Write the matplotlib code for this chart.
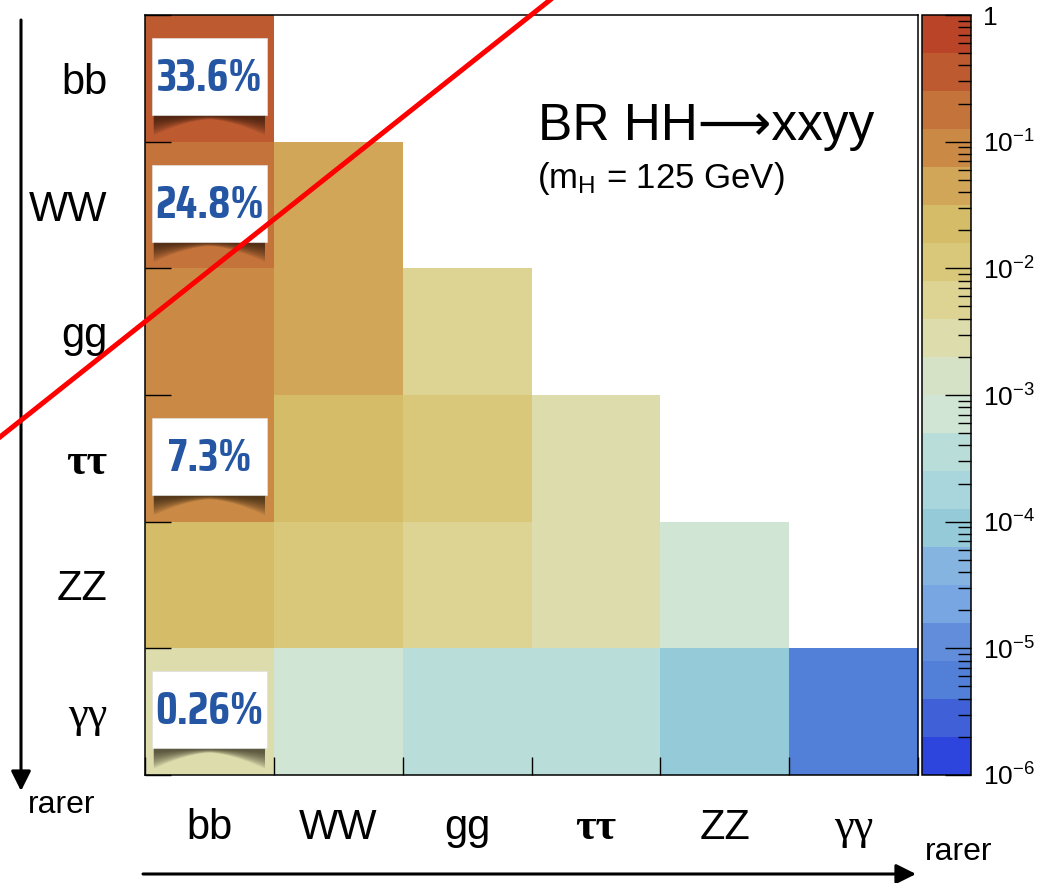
import numpy as np
import matplotlib
matplotlib.use('Agg')
import matplotlib.pyplot as plt
from matplotlib import font_manager as fm
from matplotlib.textpath import TextPath
from matplotlib.colors import ListedColormap, LogNorm
from matplotlib.lines import Line2D
from matplotlib.patches import Rectangle, FancyArrowPatch
import matplotlib.ticker as mticker

plt.rcParams['font.family'] = ['Liberation Sans', 'DejaVu Sans']
plt.rcParams['mathtext.fontset'] = 'custom'
plt.rcParams['mathtext.rm'] = 'Liberation Sans'
plt.rcParams['mathtext.default'] = 'regular'

# decay channels, ordered from most to least frequent
channels = ['bb', 'WW', 'gg', 'ττ', 'ZZ', 'γγ']

# BR(HH -> xxyy), one list per row (first pair), lower triangle only
br_bb = [0.336]
br_WW = [0.248, 0.0457]
br_gg = [0.0949, 0.0350, 0.00669]
br_tautau = [0.0730, 0.0268, 0.0103, 0.00393]
br_ZZ = [0.0304, 0.0112, 0.00429, 0.00329, 0.000686]
br_gamgam = [0.00260, 0.000970, 0.000371, 0.000285, 0.000119, 5.15e-6]

# boxed percentages in the first column
pct_rows = [0, 1, 3, 5]
pct_labels = ['33.6%', '24.8%', '7.3%', '0.26%']

# palette, from 1e-6 (blue) up to 1 (red), 20 bands of 0.3 decades
band_colors = ['#2E45DD', '#3F60D6', '#527FD7', '#628DDB', '#77A6E3',
               '#85B4E0', '#95CAD9', '#A9D5DC', '#B9DDD9', '#D0E5D4',
               '#D5E2C5', '#DCDCAC', '#DDD494', '#D9C77A', '#D4BC68',
               '#D1A658', '#CA8A45', '#C4733A', '#BE5A30', '#BA4428']


def weight_num(w):
    if isinstance(w, str):
        return {'bold': 700, 'heavy': 800, 'black': 900, 'semibold': 600,
                'demibold': 600}.get(w, 400)
    return w


def aspect(prop):
    # width of "33.6%" relative to the height of a digit
    wid = TextPath((0, 0), '33.6%', size=10, prop=prop).get_extents().width
    hgt = TextPath((0, 0), '3', size=10, prop=prop).get_extents().height
    return wid / hgt


# bold sans face whose proportions come closest to the boxed numbers (~3.2)
target = 3.2
pct_font = fm.FontProperties(family='Liberation Sans', weight='bold')
best = abs(aspect(pct_font) - target)
for f in fm.fontManager.ttflist:
    if f.style != 'normal' or not (700 <= weight_num(f.weight) <= 800):
        continue
    if any(k in f.name for k in ('Mono', 'Serif', 'CJK', 'Math', 'Display')):
        continue
    try:
        p = fm.FontProperties(fname=f.fname)
        d = abs(aspect(p) - target)
    except Exception:
        continue
    if d < best:
        best, pct_font = d, p

W, H = 1037, 883
fig = plt.figure(figsize=(W / 100, H / 100), dpi=100)

rows = [br_bb, br_WW, br_gg, br_tautau, br_ZZ, br_gamgam]
n = len(channels)
mat = np.full((n, n), np.nan)
for i, r in enumerate(rows):
    mat[i, :len(r)] = r

cmap = ListedColormap(band_colors)
norm = LogNorm(vmin=1e-6, vmax=1)

ax = fig.add_axes([145 / W, 1 - 775 / H, (918 - 145) / W, 760 / H])
mesh = ax.pcolormesh(np.arange(n + 1), np.arange(n + 1), np.ma.masked_invalid(mat),
                     cmap=cmap, norm=norm)
ax.set_xlim(0, n)
ax.set_ylim(n, 0)

for sp in ax.spines.values():
    sp.set_linewidth(1.1)

# ticks at cell edges, labels at cell centres
ax.set_xticks(np.arange(n + 1))
ax.set_yticks(np.arange(n + 1))
ax.set_xticks(np.arange(n) + 0.5, minor=True)
ax.set_yticks(np.arange(n) + 0.5, minor=True)
ax.set_xticklabels(channels, minor=True)
ax.set_yticklabels(channels, minor=True)
ax.tick_params(which='major', direction='in', width=1, labelbottom=False, labelleft=False)
ax.tick_params(axis='x', which='major', length=13)
ax.tick_params(axis='y', which='major', length=19)
ax.tick_params(axis='x', which='minor', length=0, pad=24, labelsize=30)
ax.tick_params(axis='y', which='minor', length=0, pad=27, labelsize=30)
for lab in ax.get_xticklabels(minor=True) + ax.get_yticklabels(minor=True):
    if lab.get_text() == 'ττ':
        lab.set_fontfamily(['Liberation Serif', 'DejaVu Serif'])
        lab.set_fontweight('bold')
        lab.set_fontsize(32)
    elif lab.get_text() == 'γγ':
        lab.set_fontfamily(['Liberation Serif', 'DejaVu Serif'])
        lab.set_fontsize(32)

# white label boxes with a curled shadow
bw, bh = 0.893, 0.608
t = np.linspace(0, 1, 80)
pct_texts = []
for r, s in zip(pct_rows, pct_labels):
    cx, cy = 0.5, r + 0.5 - 0.015
    x0, y1 = cx - bw / 2, cy + bh / 2
    for k in range(10):
        grow = 1 - 0.085 * k
        depth = (0.035 + 0.125 * np.abs(2 * t - 1) ** 1.6) * grow
        xs = x0 + 0.015 + (bw - 0.03) * t
        px = np.concatenate([xs, xs[::-1]])
        py = np.concatenate([np.full_like(t, y1 - 0.05), (y1 + depth)[::-1]])
        ax.fill(px, py, color='#140c04', alpha=0.09, lw=0, zorder=2.5)
    ax.add_patch(Rectangle((x0, cy - bh / 2), bw, bh, facecolor='white',
                           edgecolor='#e0e0e0', lw=0.5, zorder=3))
    pct_texts.append(ax.text(cx, r + 0.5, s, ha='center', va='center', color='#2456A4',
                             fontproperties=pct_font, fontsize=30, zorder=4))

# scale the numbers so that "33.6%" is about 106 px wide
fig.canvas.draw()
wpx = pct_texts[0].get_window_extent().width
size = min(38, 30 * 106 / wpx)
for tx in pct_texts:
    tx.set_fontsize(size)

# colour bar, ticks only inside 1e-6 .. 1
cax = fig.add_axes([921.5 / W, 1 - 775 / H, 49 / W, 760 / H])
cb = fig.colorbar(mesh, cax=cax)
cb.outline.set_linewidth(1.1)
decades = np.arange(-6, 1)
cax.yaxis.set_major_locator(mticker.FixedLocator(10.0 ** decades))
cax.yaxis.set_minor_locator(mticker.FixedLocator(
    [m * 10.0 ** d for d in decades[:-1] for m in range(2, 10)]))
cax.yaxis.set_major_formatter(mticker.FuncFormatter(
    lambda v, _: '1' if abs(v - 1) < 1e-9 else '$10^{%d}$' % round(np.log10(v))))
cax.yaxis.set_minor_formatter(mticker.NullFormatter())
cax.tick_params(which='major', direction='in', length=19, width=1, labelsize=19, pad=9)
cax.tick_params(which='minor', direction='in', length=9.5, width=1)

# title
fig.text(706 / W, 1 - 140 / H, 'BR HH⟶xxyy', ha='center', va='baseline', fontsize=37)
fig.text(661 / W, 1 - 188 / H, '(m$_{H}$ = 125 GeV)', ha='center', va='baseline', fontsize=25)

# "rarer" arrows
fig.add_artist(FancyArrowPatch((21 / W, 1 - 20 / H), (21 / W, 1 - 791 / H),
                               transform=fig.transFigure, arrowstyle='-|>,head_length=12,head_width=6',
                               lw=2.2, color='black', shrinkA=0, shrinkB=0))
fig.add_artist(FancyArrowPatch((143 / W, 1 - 874 / H), (916 / W, 1 - 874 / H),
                               transform=fig.transFigure, arrowstyle='-|>,head_length=12,head_width=6',
                               lw=2.2, color='black', shrinkA=0, shrinkB=0))
fig.text(28 / W, 1 - 813 / H, 'rarer', ha='left', va='baseline', fontsize=23)
fig.text(925 / W, 1 - 860 / H, 'rarer', ha='left', va='baseline', fontsize=23)

# red diagonal
fig.add_artist(Line2D([0, 550 / W], [1 - 437 / H, 1], transform=fig.transFigure,
                      color='red', lw=3.6, zorder=10))

fig.savefig('out.png', dpi=100)
